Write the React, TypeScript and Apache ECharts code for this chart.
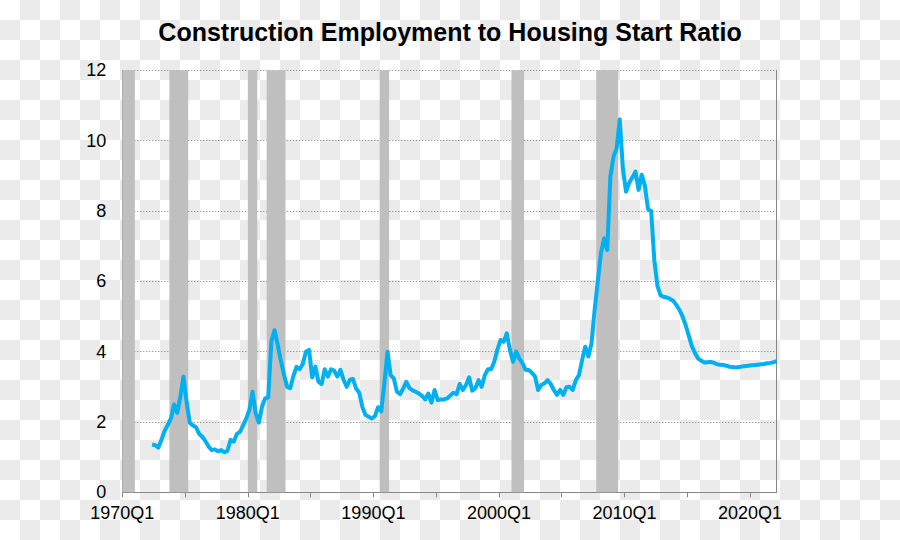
import React, { useEffect, useRef } from "react";
import * as echarts from "echarts";

// Quarter labels for the horizontal axis, 1970Q1 .. 2022Q4
const quarters: string[] = [];
for (let y = 1970; y <= 2022; y++) {
  for (let q = 1; q <= 4; q++) quarters.push(`${y}Q${q}`);
}

// First quarter of the ratio series
const seriesStart = "1972Q2";

// Construction employment to housing start ratio, quarterly from 1972Q2 to 2022Q1
const ratio: number[] = [
  1.36, 1.34, 1.27, 1.50, 1.75, 1.92, 2.10, 2.50, 2.26, 2.72,
  3.29, 2.55, 1.98, 1.90, 1.85, 1.66, 1.58, 1.45, 1.30, 1.20,
  1.22, 1.17, 1.20, 1.14, 1.18, 1.49, 1.44, 1.66, 1.72, 1.90,
  2.10, 2.35, 2.86, 2.25, 1.98, 2.43, 2.67, 2.70, 4.30, 4.61,
  4.20, 3.75, 3.35, 3.00, 2.96, 3.30, 3.57, 3.50, 3.65, 4.00,
  4.05, 3.27, 3.57, 3.14, 3.08, 3.50, 3.29, 3.50, 3.46, 3.29,
  3.48, 3.20, 3.00, 3.20, 3.22, 2.95, 2.83, 2.42, 2.20, 2.15,
  2.10, 2.17, 2.42, 2.30, 3.10, 4.00, 3.33, 3.24, 2.86, 2.79,
  2.95, 3.14, 2.96, 2.90, 2.86, 2.81, 2.74, 2.64, 2.81, 2.55,
  2.91, 2.62, 2.64, 2.64, 2.67, 2.75, 2.83, 2.79, 3.08, 2.91,
  3.05, 3.27, 2.89, 2.96, 3.19, 3.00, 3.33, 3.50, 3.50, 3.71,
  4.05, 4.33, 4.28, 4.52, 4.05, 3.71, 4.00, 3.80, 3.67, 3.48,
  3.48, 3.40, 3.29, 2.91, 3.05, 3.10, 3.19, 3.08, 2.91, 2.77,
  2.91, 2.77, 2.99, 3.00, 2.91, 3.19, 3.33, 3.76, 4.14, 3.86,
  4.24, 5.20, 6.00, 6.80, 7.22, 6.89, 8.97, 9.54, 9.78, 10.60,
  9.20, 8.55, 8.80, 8.95, 9.12, 8.60, 9.03, 8.72, 8.05, 8.00,
  6.60, 5.87, 5.60, 5.56, 5.54, 5.50, 5.45, 5.33, 5.19, 5.00,
  4.75, 4.45, 4.15, 3.95, 3.80, 3.74, 3.69, 3.70, 3.71, 3.68,
  3.64, 3.63, 3.62, 3.60, 3.57, 3.56, 3.55, 3.56, 3.58, 3.59,
  3.60, 3.61, 3.62, 3.63, 3.64, 3.65, 3.67, 3.68, 3.70, 3.73,
];

// Recessions (first and last quarter)
const recessions: [string, string][] = [
  ["1970Q1", "1970Q4"],
  ["1973Q4", "1975Q1"],
  ["1980Q1", "1980Q3"],
  ["1981Q3", "1982Q4"],
  ["1990Q3", "1991Q1"],
  ["2001Q1", "2001Q4"],
  ["2007Q4", "2009Q2"],
];

const tickQuarters = ["1970Q1", "1975Q1", "1980Q1", "1985Q1", "1990Q1", "1995Q1", "2000Q1", "2005Q1", "2010Q1", "2015Q1", "2020Q1"];
const labelQuarters = ["1970Q1", "1980Q1", "1990Q1", "2000Q1", "2010Q1", "2020Q1"];
const lastAxisQuarter = "2022Q1";

const TITLE = "Construction Employment to Housing Start Ratio";

const qIndex = (s: string) => quarters.indexOf(s);

// Transparency-style checkerboard backdrop of the reference picture
function checkerRects() {
  const cell = 20;
  const out: any[] = [];
  for (let r = 0; r * cell < 540; r++) {
    for (let c = 0; c * cell < 900; c++) {
      if ((r + c) % 2 === 1) {
        out.push({
          type: "rect",
          shape: { x: c * cell, y: r * cell, width: cell, height: cell },
          style: { fill: "#ebebeb" },
          silent: true,
        });
      }
    }
  }
  return out;
}

export default function App() {
  const ref = useRef<HTMLDivElement>(null);
  useEffect(() => {
    if (!ref.current) return;
    const chart = echarts.init(ref.current, null, { renderer: "svg" });
    const start = qIndex(seriesStart);
    const lineData = ratio.map((v, k) => [start + k + 0.5, v]);
    const areas = recessions.map(([a, b]) => [
      { xAxis: qIndex(a) },
      { xAxis: qIndex(b) + 1 },
    ]);
    const font = "Arial, 'Liberation Sans', sans-serif";
    chart.setOption({
      animation: false,
      backgroundColor: "#ffffff",
      graphic: [
        {
          type: "group",
          left: 0,
          top: 0,
          z: -10,
          silent: true,
          children: checkerRects(),
        },
      ],
      title: {
        text: TITLE,
        left: "center",
        top: 14,
        textStyle: { fontFamily: font, fontSize: 25, fontWeight: "bold", color: "#000" },
      },
      grid: { left: 122.3, right: 123.3, top: 70.3, bottom: 47.7, containLabel: false },
      xAxis: {
        type: "value",
        min: 0,
        max: qIndex(lastAxisQuarter) + 0.5,
        interval: 20,
        splitLine: { show: false },
        axisLine: { show: true, lineStyle: { color: "#868686", width: 1 } },
        axisTick: {
          show: true,
          length: 5,
          lineStyle: { color: "#868686" },
          customValues: tickQuarters.map(qIndex),
        },
        axisLabel: {
          customValues: labelQuarters.map(qIndex),
          formatter: (v: number) => quarters[Math.round(v)],
          color: "#000",
          fontFamily: font,
          fontSize: 18,
          margin: 12,
        },
      },
      yAxis: [
        {
          type: "value",
          min: 0,
          max: 12,
          interval: 2,
          axisLine: { show: true, lineStyle: { color: "#868686", width: 1 } },
          axisTick: { show: false },
          axisLabel: { color: "#000", fontFamily: font, fontSize: 18, margin: 16 },
          splitLine: { show: true, lineStyle: { color: "#7a7a7a", type: [1, 2], width: 1 } },
        },
        {
          type: "value",
          position: "right",
          min: 0,
          max: 12,
          interval: 2,
          axisLine: { show: true, lineStyle: { color: "#868686", width: 1 } },
          axisTick: { show: false },
          axisLabel: { show: false },
          splitLine: { show: false },
        },
      ],
      series: [
        {
          type: "line",
          data: lineData,
          showSymbol: false,
          symbol: "none",
          z: 3,
          lineStyle: { color: "#00B0F0", width: 4, join: "round" },
          markArea: {
            silent: true,
            itemStyle: { color: "#BFBFBF", opacity: 1 },
            data: areas,
          },
        },
      ],
    });
    return () => chart.dispose();
  }, []);
  return (
    <div style={{ position: "fixed", left: 0, top: 0, width: 900, height: 540 }}>
      <div ref={ref} style={{ width: 900, height: 540 }} />
    </div>
  );
}
